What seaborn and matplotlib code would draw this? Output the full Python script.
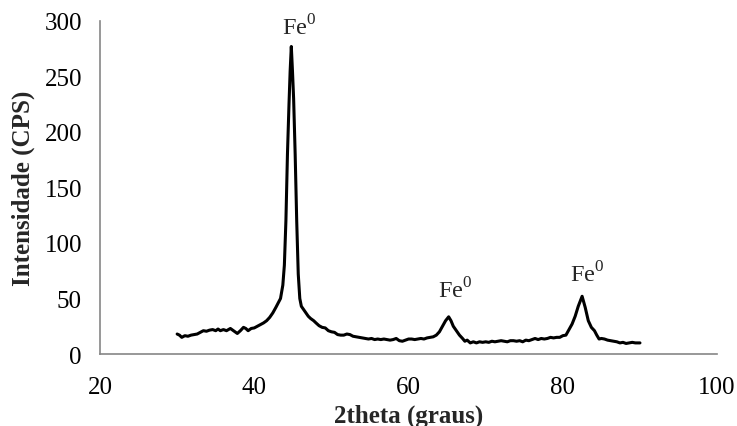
import matplotlib
matplotlib.use("Agg")
import matplotlib.pyplot as plt
import pandas as pd
import seaborn as sns

# diffractogram
two_theta = [30.0, 30.3, 30.6, 31.0, 31.4, 31.8, 32.2, 32.6, 33.0, 33.4, 33.8, 34.2, 34.6,
             35.0, 35.3, 35.6, 36.0, 36.4, 36.9, 37.3, 37.8, 38.2, 38.6, 38.9, 39.2, 39.6,
             40.0, 40.4, 40.8, 41.2, 41.6, 42.0, 42.4, 42.8, 43.1, 43.4, 43.7, 43.9, 44.1,
             44.3, 44.5, 44.65, 44.8, 44.95, 45.1, 45.3, 45.5, 45.7, 45.9, 46.1, 46.4, 46.7,
             47.0, 47.3, 47.7, 48.0, 48.4, 48.8, 49.2, 49.6, 50.0, 50.4, 50.8, 51.2, 51.6,
             52.0, 52.4, 52.8, 53.2, 53.6, 54.0, 54.4, 54.8, 55.2, 55.6, 56.0, 56.4, 56.8,
             57.2, 57.6, 58.0, 58.4, 58.8, 59.2, 59.6, 60.0, 60.4, 60.8, 61.2, 61.6, 62.0,
             62.4, 62.8, 63.2, 63.6, 64.0, 64.4, 64.8, 65.2, 65.5, 65.8, 66.2, 66.6, 67.0,
             67.3, 67.6, 68.0, 68.4, 68.8, 69.2, 69.6, 70.0, 70.4, 70.8, 71.2, 71.6, 72.0,
             72.4, 72.8, 73.2, 73.6, 74.0, 74.4, 74.8, 75.2, 75.6, 76.0, 76.4, 76.8, 77.2,
             77.6, 78.0, 78.4, 78.8, 79.2, 79.6, 80.0, 80.4, 80.8, 81.2, 81.6, 82.0, 82.5,
             82.9, 83.3, 83.7, 84.1, 84.4, 84.7, 85.0, 85.4, 85.8, 86.2, 86.6, 87.0, 87.4,
             87.8, 88.2, 88.6, 89.0, 89.4, 89.8, 90.0]
intensity = [18, 17, 15, 16.5, 16, 17, 17.5, 18, 19.5, 21, 20.5, 21.5, 22,
             21, 22.5, 21, 22, 21, 23, 21, 18.5, 21, 24, 23, 21, 23,
             23.5, 25, 26.5, 28, 30, 33, 37, 42, 46, 50, 62, 80, 120,
             180, 225, 255, 277, 255, 230, 180, 120, 72, 50, 43, 40, 37,
             34, 32, 30, 28, 25.5, 24, 23.5, 21, 20, 19.5, 17.5, 17, 17,
             18, 17.5, 16, 15.5, 15, 14.5, 14, 13.5, 14, 13, 13.5, 13, 13.5,
             13, 12.5, 13, 14, 12, 11.5, 12.5, 13.5, 13.5, 13, 13.5, 14, 13.5,
             14.5, 15, 15.5, 17, 20, 25, 30, 33.5, 30, 25, 21, 17, 14,
             11.5, 12.5, 10, 11, 10, 11, 10.5, 11, 10.5, 11.5, 11, 11.5, 12,
             11.5, 11, 12, 12, 11.5, 12, 11, 12.5, 12, 13, 14, 13, 14,
             13.5, 14, 15, 14.5, 15, 15, 16.5, 17, 22, 27, 34, 43, 52,
             42, 30, 24, 21, 17, 13.5, 14, 13.5, 12.5, 12, 11.5, 11, 10,
             10.5, 9.5, 10, 10.5, 10, 10, 10]

label_text = ["Fe$^0$", "Fe$^0$", "Fe$^0$"]
label_x = [45.8, 66.1, 83.2]
label_y = [288, 51, 65]

df = pd.DataFrame({"2theta": two_theta, "I": intensity})

sns.set_theme(style="white")
plt.rcParams["font.family"] = ["Liberation Serif", "DejaVu Serif"]
plt.rcParams["mathtext.fontset"] = "custom"
plt.rcParams["mathtext.rm"] = "Liberation Serif"

fig = plt.figure(figsize=(7.37, 4.27), dpi=100)
ax = fig.add_axes([0.1357, 0.1686, 0.8373, 0.78])

sns.lineplot(ax=ax, data=df, x="2theta", y="I", color="black", linewidth=2.2)

for t, x, y in zip(label_text, label_x, label_y):
    ax.text(x, y, t, ha="center", va="baseline", fontsize=17.5)

ax.set_xlim(20, 100)
ax.set_ylim(0, 300)
ax.set_xticks([20, 40, 60, 80, 100])
ax.set_yticks([0, 50, 100, 150, 200, 250, 300])
for s in ["top", "right"]:
    ax.spines[s].set_visible(False)
for s in ["left", "bottom"]:
    ax.spines[s].set_color("#868686")
    ax.spines[s].set_linewidth(1.2)
ax.tick_params(axis="both", direction="out", length=6, width=1.2, color="#868686",
               labelsize=18, labelcolor="black", pad=7)
ax.tick_params(axis="x", pad=10)
ax.set_xlabel("2theta (graus)", fontsize=18, fontweight="bold", labelpad=4)
ax.set_ylabel("Intensidade (CPS)", fontsize=18, fontweight="bold", labelpad=7)

fig.savefig("out.png", dpi=100)
